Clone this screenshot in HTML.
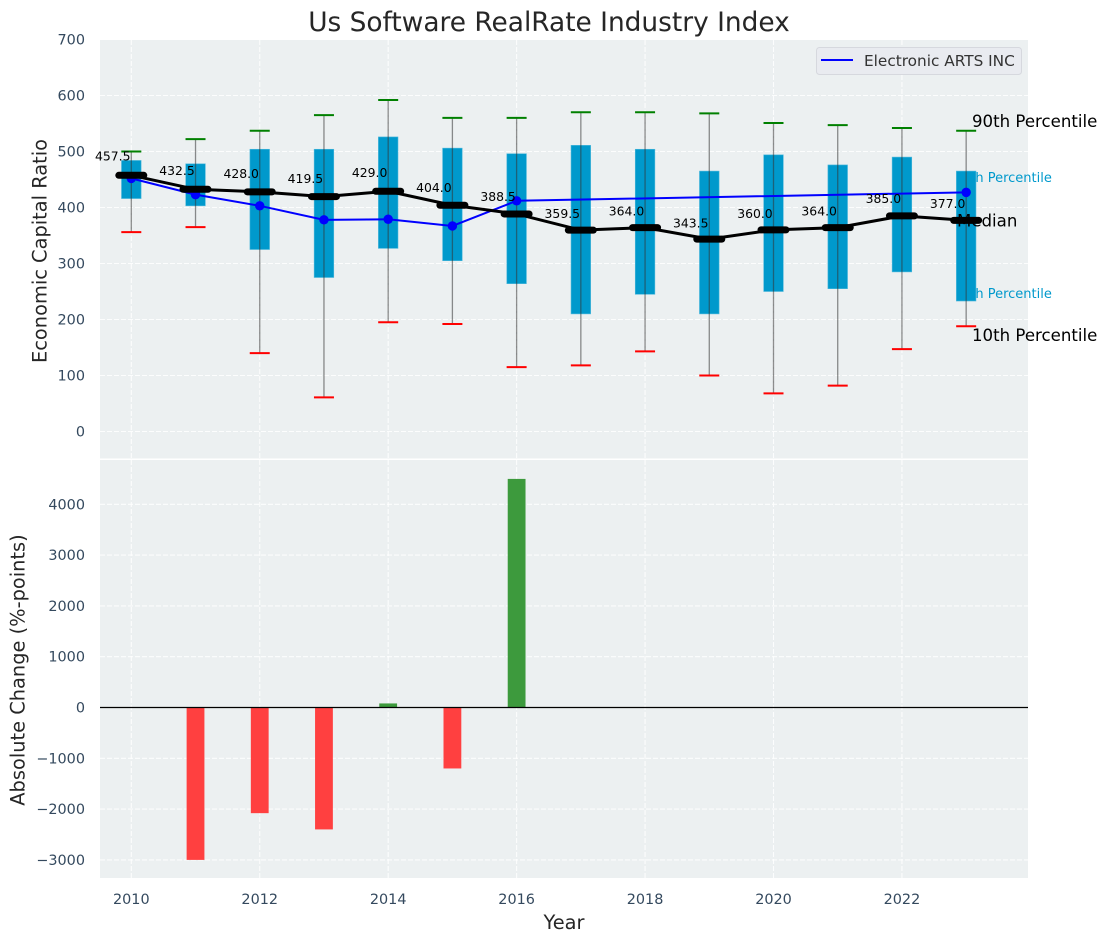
<!DOCTYPE html>
<html lang="en">
<head>
<meta charset="utf-8">
<title>Us Software RealRate Industry Index</title>
<style>
html,body{margin:0;padding:0;background:#fff;width:1107px;height:942px;overflow:hidden}
svg{display:block;font-family:"DejaVu Sans","Liberation Sans",sans-serif}
</style>
</head>
<body>
<svg id="chart" width="1107" height="942" viewBox="0 0 1107 942" xmlns="http://www.w3.org/2000/svg">
  <defs>
    <clipPath id="right-of-last-box"><rect x="975.6" y="100" width="131" height="260"/></clipPath>
  </defs>
  <rect x="100" y="40" width="928" height="418.5" fill="#ecf0f1"/>
  <rect x="100" y="460" width="928" height="418" fill="#ecf0f1"/>
  <g id="grid"></g>
  <g id="ticks" font-size="14.4" fill="#34495e"></g>
  <text x="549" y="31" text-anchor="middle" font-size="26.4" fill="#262626">Us Software RealRate Industry Index</text>
  <text transform="translate(46.5 251) rotate(-90)" text-anchor="middle" font-size="19.4" fill="#262626">Economic Capital Ratio</text>
  <text transform="translate(24.5 670) rotate(-90)" text-anchor="middle" font-size="19.4" fill="#262626">Absolute Change (%-points)</text>
  <text x="564" y="929" text-anchor="middle" font-size="19.4" fill="#262626">Year</text>
  <text x="953.7" y="182" font-size="13" fill="#0099cc" clip-path="url(#right-of-last-box)">75th Percentile</text>
  <text x="953.7" y="298" font-size="13" fill="#0099cc" clip-path="url(#right-of-last-box)">25th Percentile</text>
  <g id="marks"></g>
  <g id="bars"></g>
  <line x1="100" x2="1028" y1="707.5" y2="707.5" stroke="#000" stroke-width="1.2"/>
  <text x="972" y="127" font-size="16.6" fill="#000">90th Percentile</text>
  <text x="957" y="226.5" font-size="16.6" fill="#000">Median</text>
  <text x="972" y="341" font-size="16.6" fill="#000">10th Percentile</text>
  <g>
    <rect x="816.5" y="47.5" width="205" height="27" rx="3" fill="#e9ebf0" stroke="#d6d8de" stroke-width="1"/>
    <line x1="821" x2="853" y1="60" y2="60" stroke="#0000ff" stroke-width="2"/>
    <text x="864" y="66" font-size="15.3" fill="#333">Electronic ARTS INC</text>
  </g>
</svg>
<script>
const years = [2010,2011,2012,2013,2014,2015,2016,2017,2018,2019,2020,2021,2022,2023];
const p10 = [356,365,140,61,195,192,115,118,143,100,68,82,147,188];
const p25 = [416,403,325,275,327,305,264,210,245,210,250,255,285,233];
const median = [457.5,432.5,428,419.5,429,404,388.5,359.5,364,343.5,360,364,385,377];
const p75 = [484,478,504,504,526,506,496,511,504,465,494,476,490,465];
const p90 = [500,522,537,565,592,560,560,570,570,568,551,547,542,537];
const companyYears = [2010,2011,2012,2013,2014,2015,2016,2023];
const companyValues = [452,423,403,378,379,367,412,427];
const changeYears = [2011,2012,2013,2014,2015,2016];
const changeValues = [-3000,-2080,-2400,80,-1200,4500];
const xTickValues = [2010,2012,2014,2016,2018,2020,2022];
const topTickValues = [0,100,200,300,400,500,600,700];
const bottomTickValues = [-3000,-2000,-1000,0,1000,2000,3000,4000];

const NS = 'http://www.w3.org/2000/svg';
const xScale = v => 131.3 + (v - 2010) * 64.22;
const yTop = v => 431.5 - v * 0.56;
const yBottom = v => 707.5 - v * 0.0508;
const fmtTick = v => (v < 0 ? '\u2212' + (-v) : String(v));

function make(parent, tag, attrs, text) {
  const el = document.createElementNS(NS, tag);
  for (const k in attrs) el.setAttribute(k, attrs[k]);
  if (text !== undefined) el.textContent = text;
  parent.appendChild(el);
  return el;
}
const grid = document.getElementById('grid');
const ticks = document.getElementById('ticks');
const marks = document.getElementById('marks');
const bars = document.getElementById('bars');
const gridStyle = {stroke:'#ffffff','stroke-width':1.1,'stroke-dasharray':'5 2','stroke-opacity':0.85};

xTickValues.forEach(v => {
  let el = make(grid, 'line', Object.assign({x1:xScale(v),x2:xScale(v),y1:40,y2:458.5}, gridStyle));
  
  
  el = make(grid, 'line', Object.assign({x1:xScale(v),x2:xScale(v),y1:460,y2:878}, gridStyle));
  
  
  el = make(ticks, 'text', {x:xScale(v),y:904,'text-anchor':'middle'}, fmtTick(v));
  
  
});
topTickValues.forEach(v => {
  let el = make(grid, 'line', Object.assign({x1:100,x2:1028,y1:yTop(v),y2:yTop(v)}, gridStyle));
  
  
  el = make(ticks, 'text', {x:85,y:yTop(v)+5,'text-anchor':'end'}, fmtTick(v));
  
  
});
bottomTickValues.forEach(v => {
  let el = make(grid, 'line', Object.assign({x1:100,x2:1028,y1:yBottom(v),y2:yBottom(v)}, gridStyle));
  
  
  el = make(ticks, 'text', {x:85,y:yBottom(v)+5,'text-anchor':'end'}, fmtTick(v));
  
  
});

years.forEach((yr, i) => {
  const cx = xScale(yr);
  let el = make(marks, 'rect', {x:cx-9.8,y:yTop(p75[i]),width:19.6,height:yTop(p25[i])-yTop(p75[i]),fill:'#0099cc',stroke:'#4db8db','stroke-width':0.6});
  
  
  el = make(marks, 'line', {x1:cx,x2:cx,y1:yTop(p90[i]),y2:yTop(p10[i]),stroke:'#333','stroke-opacity':0.55,'stroke-width':1.3});
  
  
  el = make(marks, 'line', {x1:cx-10,x2:cx+10,y1:yTop(p90[i]),y2:yTop(p90[i]),stroke:'#008000','stroke-width':2});
  
  
  el = make(marks, 'line', {x1:cx-10,x2:cx+10,y1:yTop(p10[i]),y2:yTop(p10[i]),stroke:'#ff0000','stroke-width':2});
  
  
});

const companyLine = make(marks, 'polyline', {points:companyYears.map((y,i)=>xScale(y)+','+yTop(companyValues[i])).join(' '),fill:'none',stroke:'#0000ff','stroke-width':2});


companyYears.forEach((y, i) => {
  const el = make(marks, 'circle', {cx:xScale(y),cy:yTop(companyValues[i]),r:4.7,fill:'#0000ff'});
  
  
});

const medianLine = make(marks, 'polyline', {points:years.map((y,i)=>xScale(y)+','+yTop(median[i])).join(' '),fill:'none',stroke:'#000','stroke-width':3});


years.forEach((yr, i) => {
  const cx = xScale(yr);
  let el = make(marks, 'line', {x1:cx-12.5,x2:cx+12.5,y1:yTop(median[i]),y2:yTop(median[i]),stroke:'#000','stroke-width':7,'stroke-linecap':'round'});
  
  
  el = make(marks, 'text', {x:cx-0.8,y:yTop(median[i] * 1.05)-2,'text-anchor':'end','font-size':12.4,fill:'#000'}, median[i].toFixed(1));
  
  
});

changeYears.forEach((yr, i) => {
  const v = changeValues[i];
  const top = Math.min(yBottom(v), yBottom(0));
  const h = Math.abs(yBottom(v) - yBottom(0));
  const el = make(bars, 'rect', {x:xScale(yr)-8.9,y:top,width:17.8,height:h,fill:v<0?'#ff4040':'#3d9a3d'});
  
  
});
</script>
</body>
</html>
